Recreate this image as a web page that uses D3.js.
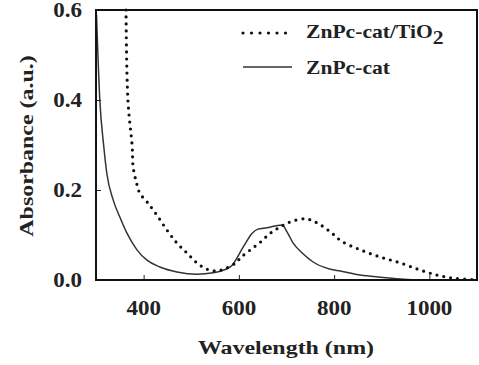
<!DOCTYPE html>
<html>
<head>
<meta charset="utf-8">
<script src="https://cdn.jsdelivr.net/npm/d3@7"></script>
<style>
  body { margin: 0; background: #fff; }
  text { font-family: "Liberation Serif", "DejaVu Serif", serif; font-weight: bold; fill: #222; }
</style>
</head>
<body>
<script>
//   DATA
const xTicks = [400, 600, 800, 1000];
const yTicks = [0.0, 0.2, 0.4, 0.6];
const seriesNames = ["ZnPc-cat/TiO", "ZnPc-cat"];

//   ZnPc-cat/TiO2 (dotted)
const tio2Wl = [363, 367, 376, 378, 386, 392, 409, 428, 449, 470, 491, 512, 533, 554, 575, 596, 603, 624, 645, 666, 687, 708, 739, 764, 792, 816, 855, 897, 939, 981, 1016, 1050, 1092, 1100];
const tio2Abs = [0.6, 0.4, 0.296, 0.251, 0.212, 0.193, 0.171, 0.144, 0.111, 0.082, 0.06, 0.038, 0.024, 0.02, 0.027, 0.04, 0.049, 0.067, 0.084, 0.104, 0.118, 0.129, 0.136, 0.127, 0.107, 0.086, 0.067, 0.051, 0.038, 0.022, 0.011, 0.004, 0.001, 0.001];

//   ZnPc-cat (solid)
const catWl = [301, 308, 316, 323, 336, 350, 365, 386, 407, 434, 470, 512, 546, 582, 609, 628, 640, 659, 676, 691, 701, 714, 733, 756, 792, 813, 855, 897, 939, 974, 1100];
const catAbs = [0.59, 0.4, 0.3, 0.235, 0.178, 0.14, 0.104, 0.067, 0.044, 0.029, 0.018, 0.013, 0.016, 0.029, 0.073, 0.104, 0.113, 0.116, 0.12, 0.122, 0.107, 0.082, 0.06, 0.04, 0.024, 0.02, 0.011, 0.006, 0.002, 0.0, 0.0];

document.addEventListener("DOMContentLoaded", function () {
  //     parameters
  const w = 479;
  const h = 365;
  const left = 96, right = 477, top = 10, bottom = 280;
  const stretch = 1.15;

  const svg = d3.select("body").append("svg").attr("width", w).attr("height", h);

  //     scales
  const xScale = d3.scaleLinear().domain([300, 1100]).range([left, right]);
  const yScale = d3.scaleLinear().domain([0, 0.6]).range([bottom, top]);

  //     curves
  const line = d3.line().x((d) => xScale(d[0])).y((d) => yScale(d[1])).curve(d3.curveMonotoneX);
  const tio2 = tio2Wl.map((d, i) => [d, tio2Abs[i]]);
  const cat = catWl.map((d, i) => [d, catAbs[i]]);

  svg.append("path")
    .datum(cat)
    .attr("d", line)
    .attr("fill", "none")
    .attr("stroke", "#333")
    .attr("stroke-width", 1.5);

  svg.append("path")
    .datum(tio2)
    .attr("d", d3.line().x((d) => xScale(d[0])).y((d) => yScale(d[1])).curve(d3.curveCatmullRom))
    .attr("fill", "none")
    .attr("stroke", "#111")
    .attr("stroke-width", 3.2)
    .attr("stroke-linecap", "round")
    .attr("stroke-dasharray", "0 7");

  //     axes (ticks inside)
  const xAxis = d3.axisTop(xScale).tickValues(xTicks).tickSize(5).tickFormat("");
  svg.append("g").attr("transform", "translate(0," + bottom + ")").call(xAxis)
    .call((g) => g.select(".domain").remove())
    .selectAll("line").attr("stroke", "#222").attr("stroke-width", 1);

  const yAxis = d3.axisRight(yScale).tickValues([0.2, 0.4]).tickSize(5).tickFormat("");
  svg.append("g").attr("transform", "translate(" + left + ",0)").call(yAxis)
    .call((g) => g.select(".domain").remove())
    .selectAll("line").attr("stroke", "#222").attr("stroke-width", 1);

  //     frame
  svg.append("rect")
    .attr("x", left).attr("y", top)
    .attr("width", right - left).attr("height", bottom - top)
    .attr("fill", "none").attr("stroke", "#111").attr("stroke-width", 2);

  //     tick labels
  svg.selectAll(".xlab").data(xTicks).enter().append("text")
    .attr("transform", (d) => "translate(" + xScale(d) + "," + (bottom + 35) + ") scale(" + stretch + ",1)")
    .attr("text-anchor", "middle")
    .style("font-size", "20px")
    .text((d) => d);

  svg.selectAll(".ylab").data(yTicks).enter().append("text")
    .attr("transform", (d) => "translate(" + (left - 14) + "," + (yScale(d) + 7) + ") scale(" + stretch + ",1)")
    .attr("text-anchor", "end")
    .style("font-size", "20px")
    .text((d) => d.toFixed(1));

  //     axis titles
  svg.append("text")
    .attr("transform", "translate(286,354) scale(1.33,1)")
    .attr("text-anchor", "middle")
    .style("font-size", "18px")
    .text("Wavelength (nm)");

  svg.append("text")
    .attr("transform", "translate(33,146) rotate(-90) scale(1.33,1)")
    .attr("text-anchor", "middle")
    .style("font-size", "18px")
    .text("Absorbance (a.u.)");

  //     legend
  const legend = svg.append("g");
  legend.append("line")
    .attr("x1", 243).attr("x2", 290).attr("y1", 33).attr("y2", 33)
    .attr("stroke", "#111").attr("stroke-width", 3.2)
    .attr("stroke-linecap", "round").attr("stroke-dasharray", "0 8.5");
  legend.append("line")
    .attr("x1", 243).attr("x2", 292).attr("y1", 67).attr("y2", 67)
    .attr("stroke", "#333").attr("stroke-width", 1.5);

  const t1 = legend.append("text")
    .attr("transform", "translate(306,38) scale(1.2,1)")
    .style("font-size", "18px");
  t1.append("tspan").text(seriesNames[0]);
  t1.append("tspan").attr("dy", 6).style("font-size", "18px").text("2");

  legend.append("text")
    .attr("transform", "translate(306,74) scale(1.2,1)")
    .style("font-size", "18px")
    .text(seriesNames[1]);
});
</script>
</body>
</html>
